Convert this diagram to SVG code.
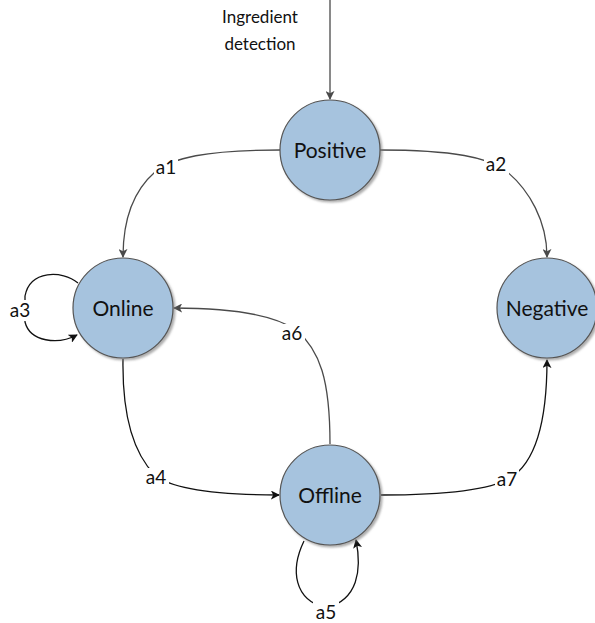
<svg xmlns="http://www.w3.org/2000/svg" width="595" height="623" viewBox="0 0 595 623">
  <style>
    .state { fill: #a6c3de; stroke: #555; stroke-width: 1.2; }
    .state-label { font-family: Lato, "Liberation Sans", sans-serif; font-size: 21px; fill: #111; text-anchor: middle; }
    .edge { fill: none; stroke-width: 1.3; }
    .edge.gray { stroke: #4a4a4a; marker-end: url(#arrowGray); }
    .edge.dark { stroke: #111; marker-end: url(#arrowDark); }
    .edge-label { font-family: Lato, "Liberation Sans", sans-serif; font-size: 19px; fill: #111; text-anchor: middle; }
    .label-bg { fill: #ffffff; }
    .caption { font-family: Lato, "Liberation Sans", sans-serif; font-size: 17px; fill: #111; text-anchor: middle; }
  </style>
  <defs>
    <marker id="arrowGray" viewBox="0 0 10 10" refX="9" refY="5" markerWidth="9" markerHeight="9" markerUnits="userSpaceOnUse" orient="auto">
      <path d="M0,0 L10,5 L0,10 L2.5,5 z" fill="#4a4a4a"/>
    </marker>
    <marker id="arrowDark" viewBox="0 0 10 10" refX="9" refY="5" markerWidth="9" markerHeight="9" markerUnits="userSpaceOnUse" orient="auto">
      <path d="M0,0 L10,5 L0,10 L2.5,5 z" fill="#111"/>
    </marker>
    <filter id="shadow" x="-20%" y="-20%" width="140%" height="140%">
      <feDropShadow dx="2" dy="2" stdDeviation="1.2" flood-color="#777" flood-opacity="0.6"/>
    </filter>
  </defs>

  <!-- transitions -->
  <g id="connectors">
    <path id="entry" class="edge gray" d="M330,0 L330,99"/>
    <path id="e-a1" class="edge gray" d="M280,150 C205,150 172,158 155,172 C132,192 123,222 123,257"/>
    <path id="e-a2" class="edge gray" d="M380,150 C455,150 488,158 505,170 C530,190 547,222 547,257"/>
    <path id="e-a3" class="edge dark" d="M78,283 C62,270 30,270 25,296 L25,322 C30,342 58,345 77,335"/>
    <path id="e-a4" class="edge dark" d="M123,359 C122,420 135,455 155,475 C175,492 230,495 279,495"/>
    <path id="e-a5" class="edge dark" d="M304,541 C290,570 294,600 326,608 C358,600 362,570 356,540"/>
    <path id="e-a6" class="edge gray" d="M330,444 C330,380 320,350 296,330 C270,312 220,308 174,308"/>
    <path id="e-a7" class="edge dark" d="M381,495 C440,495 490,490 510,478 C540,460 547,410 547,360"/>
  </g>

  <!-- transition labels -->
  <g id="edge-labels">
    <rect class="label-bg" x="154" y="158" width="24" height="20"/>
    <text class="edge-label" x="166" y="174">a1</text>
    <rect class="label-bg" x="484" y="155" width="25" height="20"/>
    <text class="edge-label" x="496" y="171">a2</text>
    <rect class="label-bg" x="7" y="300" width="26" height="21"/>
    <text class="edge-label" x="20" y="317">a3</text>
    <rect class="label-bg" x="144" y="468" width="25" height="20"/>
    <text class="edge-label" x="156" y="484">a4</text>
    <rect class="label-bg" x="313" y="601" width="26" height="21"/>
    <text class="edge-label" x="326" y="619">a5</text>
    <rect class="label-bg" x="280" y="324" width="25" height="20"/>
    <text class="edge-label" x="292" y="340">a6</text>
    <rect class="label-bg" x="495" y="470" width="24" height="20"/>
    <text class="edge-label" x="507" y="486">a7</text>
  </g>

  <g id="caption">
    <text class="caption" x="260" y="23">Ingredient</text>
    <text class="caption" x="260" y="50">detection</text>
  </g>

  <g id="positive">
    <circle class="state" cx="330" cy="150" r="50" filter="url(#shadow)"/>
    <text class="state-label" x="330" y="158">Positive</text>
  </g>
  <g id="online">
    <circle class="state" cx="123" cy="308" r="50" filter="url(#shadow)"/>
    <text class="state-label" x="123" y="316">Online</text>
  </g>
  <g id="negative">
    <circle class="state" cx="547" cy="308" r="50" filter="url(#shadow)"/>
    <text class="state-label" x="547" y="316">Negative</text>
  </g>
  <g id="offline">
    <circle class="state" cx="330" cy="495" r="50" filter="url(#shadow)"/>
    <text class="state-label" x="330" y="503">Offline</text>
  </g>
</svg>
